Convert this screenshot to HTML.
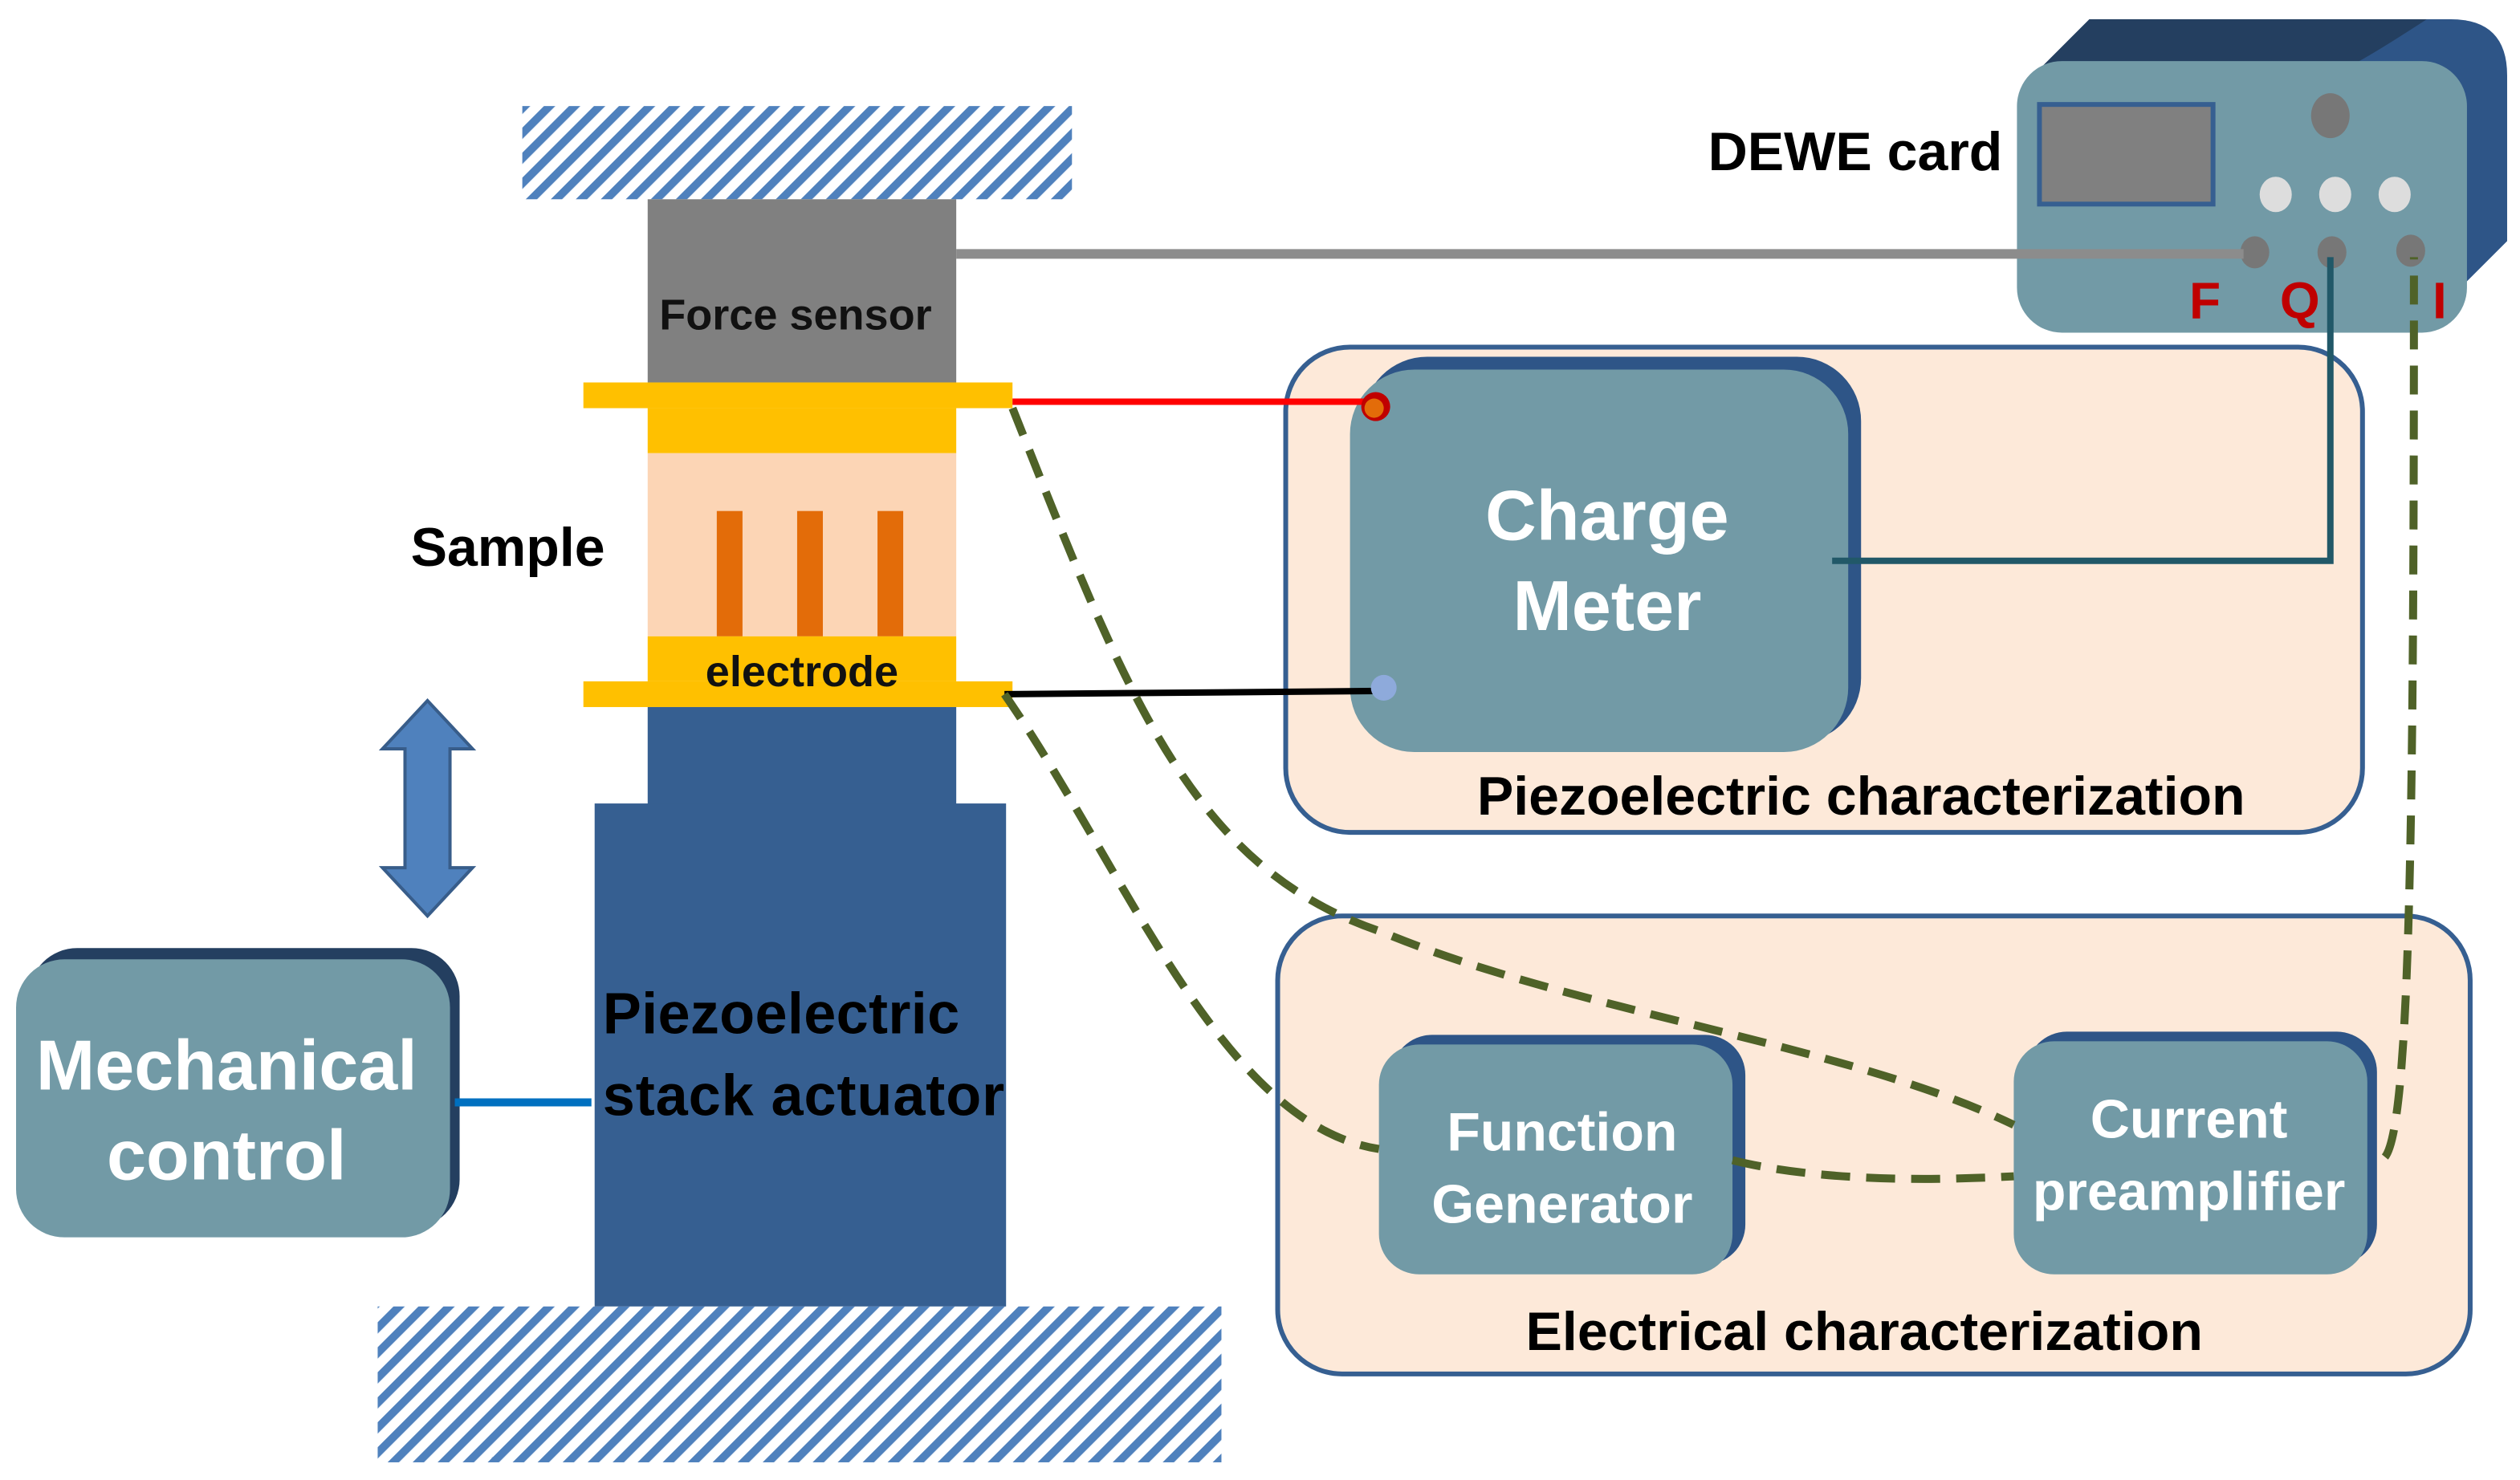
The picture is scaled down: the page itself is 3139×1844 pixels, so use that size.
<!DOCTYPE html>
<html><head><meta charset="utf-8"><style>html,body{margin:0;padding:0;background:#fff}svg{display:block}</style></head>
<body>
<svg width="3139" height="1844" viewBox="0 0 1568 921" preserveAspectRatio="none" xmlns="http://www.w3.org/2000/svg" font-family="'Liberation Sans', sans-serif">
<defs>
<pattern id="h" width="11" height="11" patternUnits="userSpaceOnUse" patternTransform="rotate(45)">
<rect width="11" height="11" fill="#fff"/><rect width="5" height="11" fill="#4f81bd"/></pattern>
</defs>
<rect x="325" y="66" width="342" height="58" fill="url(#h)"/>
<rect x="235" y="813" width="525" height="97" fill="url(#h)"/>
<rect x="403" y="124" width="192" height="114" fill="#808080"/>
<text x="495" y="205" font-size="27" font-weight="bold" text-anchor="middle" fill="#111">Force sensor</text>
<rect x="363" y="238" width="267" height="16" fill="#ffc000"/>
<rect x="403" y="254" width="192" height="28" fill="#ffc000"/>
<rect x="403" y="282" width="192" height="114" fill="#fcd5b5"/>
<rect x="446" y="318" width="16" height="78" fill="#e36c09"/>
<rect x="496" y="318" width="16" height="78" fill="#e36c09"/>
<rect x="546" y="318" width="16" height="78" fill="#e36c09"/>
<rect x="403" y="396" width="192" height="28" fill="#ffc000"/>
<rect x="363" y="424" width="267" height="16" fill="#ffc000"/>
<text x="499" y="427" font-size="27" font-weight="bold" text-anchor="middle" fill="#111">electrode</text>
<rect x="403" y="440" width="192" height="62" fill="#365f91"/>
<rect x="370" y="500" width="256" height="313" fill="#365f91"/>
<text x="375" y="643" font-size="36" font-weight="bold" fill="#000" textLength="222">Piezoelectric</text>
<text x="375" y="694" font-size="36" font-weight="bold" fill="#000" textLength="250">stack actuator</text>
<text x="316" y="352" font-size="34" font-weight="bold" text-anchor="middle" fill="#000">Sample</text>
<polygon points="266,436 294,466 280,466 280,540 294,540 266,570 238,540 252,540 252,466 238,466" fill="#4f81bd" stroke="#385d8a" stroke-width="2"/>
<rect x="18" y="590" width="268" height="174" rx="30" fill="#243f60"/>
<rect x="10" y="597" width="270" height="173" rx="30" fill="#729aa6"/>
<text x="141" y="678" font-size="44" font-weight="bold" text-anchor="middle" fill="#fff">Mechanical</text>
<text x="141" y="734" font-size="44" font-weight="bold" text-anchor="middle" fill="#fff">control</text>
<line x1="283" y1="686" x2="368" y2="686" stroke="#0070c0" stroke-width="5"/>
<rect x="800" y="216" width="670" height="302" rx="40" fill="#fde9d9" stroke="#365f91" stroke-width="3"/>
<rect x="795" y="570" width="742" height="285" rx="40" fill="#fde9d9" stroke="#365f91" stroke-width="3"/>
<rect x="848" y="222" width="310" height="240" rx="40" fill="#2e5587"/>
<rect x="840" y="230" width="310" height="238" rx="40" fill="#729aa6"/>
<text x="1000" y="336" font-size="44" font-weight="bold" text-anchor="middle" fill="#fff">Charge</text>
<text x="1000" y="392" font-size="44" font-weight="bold" text-anchor="middle" fill="#fff">Meter</text>
<text x="1158" y="507" font-size="34" font-weight="bold" text-anchor="middle" fill="#000">Piezoelectric characterization</text>
<rect x="866" y="644" width="220" height="143" rx="25" fill="#2e5587"/>
<rect x="858" y="650" width="220" height="143" rx="25" fill="#729aa6"/>
<text x="972" y="716" font-size="34" font-weight="bold" text-anchor="middle" fill="#fff">Function</text>
<text x="972" y="761" font-size="34" font-weight="bold" text-anchor="middle" fill="#fff">Generator</text>
<rect x="1261" y="642" width="218" height="145" rx="25" fill="#2e5587"/>
<rect x="1253" y="648" width="220" height="145" rx="25" fill="#729aa6"/>
<text x="1362" y="708" font-size="34" font-weight="bold" text-anchor="middle" fill="#fff">Current</text>
<text x="1362" y="753" font-size="34" font-weight="bold" text-anchor="middle" fill="#fff">preamplifier</text>
<text x="1160" y="840" font-size="34" font-weight="bold" text-anchor="middle" fill="#000">Electrical characterization</text>
<path d="M1300,12 H1525 Q1560,12 1560,47 V150 L1520,190 H1280 V60 Z" fill="#2e5587"/>
<path d="M1300,12 H1510 Q1470,38 1460,42 H1270 Z" fill="#243f60"/>
<rect x="1255" y="38" width="280" height="169" rx="28" fill="#729aa6"/>
<rect x="1269" y="65" width="108" height="62" fill="#808080" stroke="#365f91" stroke-width="3"/>
<ellipse cx="1450" cy="72" rx="12" ry="14" fill="#777"/>
<ellipse cx="1416" cy="121" rx="10" ry="11" fill="#ddd"/>
<ellipse cx="1453" cy="121" rx="10" ry="11" fill="#ddd"/>
<ellipse cx="1490" cy="121" rx="10" ry="11" fill="#ddd"/>
<ellipse cx="1403" cy="157" rx="9" ry="10" fill="#777"/>
<ellipse cx="1451" cy="157" rx="9" ry="10" fill="#777"/>
<ellipse cx="1500" cy="156" rx="9" ry="10" fill="#777"/>
<text x="1372" y="198" font-size="32" font-weight="bold" text-anchor="middle" fill="#c00000">F</text>
<text x="1431" y="198" font-size="32" font-weight="bold" text-anchor="middle" fill="#c00000">Q</text>
<text x="1518" y="198" font-size="32" font-weight="bold" text-anchor="middle" fill="#c00000">I</text>
<text x="1246" y="106" font-size="34" font-weight="bold" text-anchor="end" fill="#000">DEWE card</text>
<line x1="595" y1="158" x2="1396" y2="158" stroke="#8c8c8c" stroke-width="6"/>
<line x1="630" y1="250" x2="852" y2="250" stroke="#ff0000" stroke-width="4"/>
<circle cx="856" cy="253" r="9" fill="#c00000"/><circle cx="855" cy="254" r="6" fill="#e36c09"/>
<line x1="625" y1="432" x2="856" y2="430" stroke="#000" stroke-width="4"/>
<circle cx="861" cy="428" r="8" fill="#8eaadb"/>
<polyline points="1140,349 1450,349 1450,160" fill="none" stroke="#215868" stroke-width="4"/>
<g fill="none" stroke="#4f6228" stroke-width="5" stroke-dasharray="18,10">
<path d="M630,254 C700,430 740,540 860,580 C980,630 1150,650 1253,700"/>
<path d="M625,432 C700,540 760,700 858,715"/>
<path d="M1078,722 C1130,735 1200,735 1253,732"/>
<path d="M1484,720 C1500,700 1502,500 1502,160"/>
</g>
</svg>
</body></html>
